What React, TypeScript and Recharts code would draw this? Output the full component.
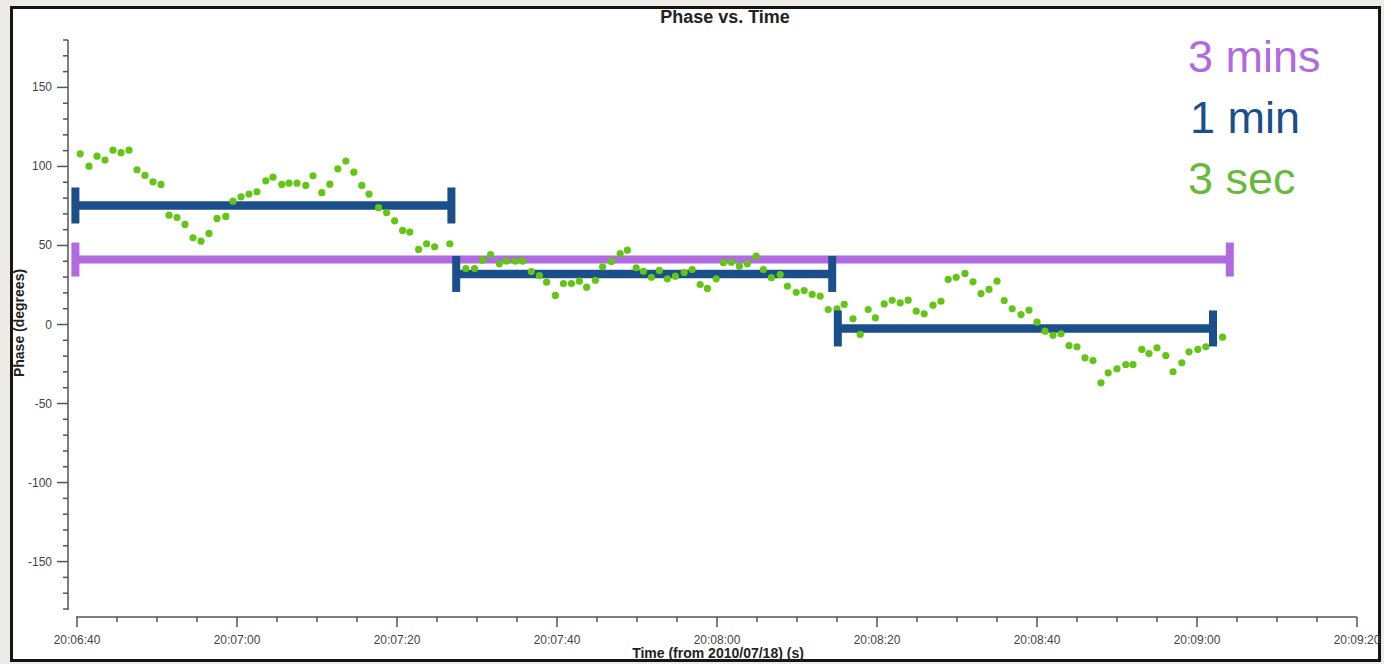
import { ComposedChart, Scatter, Line, XAxis, YAxis } from 'recharts';

// seconds after 20:06:40 (2010/07/18)
const TIME_S = [
  0.4, 1.5, 2.5, 3.5, 4.5, 5.5, 6.5, 7.5, 8.5, 9.5,
  10.5, 11.5, 12.5, 13.5, 14.5, 15.5, 16.5, 17.5, 18.6, 19.5,
  20.5, 21.5, 22.5, 23.6, 24.5, 25.6, 26.5, 27.5, 28.6, 29.5,
  30.6, 31.6, 32.6, 33.6, 34.6, 35.6, 36.5, 37.7, 38.7, 39.7,
  40.7, 41.6, 42.7, 43.7, 44.7, 46.6, 48.6, 49.7, 50.7, 51.7,
  52.8, 53.7, 54.8, 55.7, 56.8, 57.8, 58.7, 59.8, 60.8, 61.8,
  62.8, 63.7, 64.8, 65.7, 66.8, 67.9, 68.8, 69.9, 70.8, 71.8,
  72.8, 73.8, 74.8, 75.9, 76.9, 77.9, 78.8, 79.9, 80.8, 81.8,
  82.8, 83.8, 84.9, 85.8, 86.8, 87.9, 88.8, 89.9, 90.9, 91.9,
  92.9, 93.9, 95.0, 95.9, 97.0, 97.9, 98.9, 99.8, 100.9, 101.9,
  102.9, 103.9, 104.9, 105.9, 107.0, 108.0, 108.9, 109.9, 111.0, 112.0,
  113.0, 114.0, 115.0, 115.9, 116.9, 118.0, 119.0, 120.0, 121.0, 122.0,
  123.0, 124.0, 125.0, 126.0, 127.0, 128.0, 128.9, 130.0, 131.1, 132.0,
  133.1, 134.0, 135.0, 136.1, 137.0, 138.1, 139.0, 140.1, 141.1, 142.1,
  143.2,
];

const PHASE_DEG = [
  108.0, 100.2, 106.5, 104.0, 110.3, 108.7, 110.3, 97.9, 94.3, 90.3,
  88.6, 69.2, 67.7, 63.3, 54.9, 52.7, 57.6, 67.1, 68.4, 78.0,
  80.8, 82.5, 84.0, 90.9, 93.2, 88.6, 89.4, 89.4, 88.0, 94.1,
  83.4, 88.8, 98.5, 103.4, 96.4, 88.0, 82.5, 73.9, 70.7, 65.6,
  59.5, 58.5, 47.5, 51.1, 49.2, 51.1, 35.4, 35.4, 40.7, 44.3,
  38.4, 40.1, 40.1, 40.1, 33.5, 31.0, 26.8, 18.4, 25.9, 25.9,
  27.4, 23.6, 28.0, 36.5, 39.9, 44.9, 47.0, 35.9, 33.7, 29.9,
  34.2, 28.9, 30.6, 32.9, 34.8, 25.3, 22.8, 28.9, 39.1, 39.4,
  36.9, 38.4, 43.2, 34.8, 29.6, 31.6, 24.2, 20.4, 21.5, 19.0,
  17.9, 9.5, 9.9, 12.7, 3.6, -6.3, 9.5, 4.2, 13.0, 15.3,
  13.7, 15.4, 8.4, 6.8, 12.2, 14.7, 28.5, 29.9, 32.3, 27.0,
  19.6, 22.2, 27.4, 15.2, 9.9, 6.3, 9.1, 1.5, -4.2, -6.8,
  -5.9, -13.3, -14.1, -21.1, -22.8, -36.9, -30.6, -28.0, -25.3, -25.3,
  -15.8, -18.4, -14.7, -19.6, -29.9, -24.2, -17.3, -15.8, -14.1, -11.4,
  -8.0,
];

// 1 minute averages
const MIN1_START = [-0.2, 47.4, 95.1];
const MIN1_END = [46.8, 94.4, 142.0];
const MIN1_MEAN = [75.3, 32.0, -2.5];

// 3 minute average
const MIN3_START = [-0.2];
const MIN3_END = [144.1];
const MIN3_MEAN = [41.1];

const X_MAJOR = [0, 20, 40, 60, 80, 100, 120, 140, 160];
const X_LABELS = ['20:06:40', '20:07:00', '20:07:20', '20:07:40', '20:08:00', '20:08:20', '20:08:40', '20:09:00', '20:09:20'];
const Y_MAJOR = [-150, -100, -50, 0, 50, 100, 150];
const Y_LABELS = ['-150', '-100', '-50', '0', '50', '100', '150'];

const LEGEND_TEXT = ['3 mins', '1 min', '3 sec'];

const PURPLE = '#b26ae0';
const BLUE = '#1b4f8a';
const GREEN = '#63c615';
const AXIS = '#555';
const FONT = '"Liberation Sans", Arial, sans-serif';

const xMinor: number[] = [];
for (let t = 0; t <= 160; t += 5) xMinor.push(t);
const yMinor: number[] = [];
for (let v = -180; v <= 180; v += 10) yMinor.push(v);

const points = TIME_S.map((t, i) => ({ t, v: PHASE_DEG[i] }));
const min1Bars = MIN1_START.map((s, i) => [
  { t: s, v: MIN1_MEAN[i] },
  { t: MIN1_END[i], v: MIN1_MEAN[i] },
]);
const min3Bar = [
  { t: MIN3_START[0], v: MIN3_MEAN[0] },
  { t: MIN3_END[0], v: MIN3_MEAN[0] },
];

const XTick = (props: any) => {
  const { x, y, payload } = props;
  const i = X_MAJOR.indexOf(payload.value);
  return (
    <g>
      <line x1={x} x2={x} y1={y} y2={y + (i >= 0 ? 10 : 5)} stroke={AXIS} strokeWidth={1.5} />
      {i >= 0 && (
        <text x={x} y={y + 27} textAnchor="middle" fontSize={12} fill="#444" fontFamily={FONT}>
          {X_LABELS[i]}
        </text>
      )}
    </g>
  );
};

const YTick = (props: any) => {
  const { x, y, payload } = props;
  const i = Y_MAJOR.indexOf(payload.value);
  return (
    <g>
      <line x1={x - (i >= 0 ? 11 : 5)} x2={x} y1={y} y2={y} stroke={AXIS} strokeWidth={1.5} />
      {i >= 0 && (
        <text x={x - 16} y={y + 4} textAnchor="end" fontSize={12} fill="#444" fontFamily={FONT}>
          {Y_LABELS[i]}
        </text>
      )}
    </g>
  );
};

const capDot = (color: string, h: number) => (props: any) => (
  <rect key={props.index} x={props.cx - 4} y={props.cy - h / 2} width={8} height={h} fill={color} />
);

const greenDot = (props: any) => <circle cx={props.cx} cy={props.cy} r={3.6} fill={GREEN} />;

export default function App() {
  return (
    <div style={{ position: 'absolute', left: 0, top: 0, width: 1384, height: 664, background: '#eeebe6', overflow: 'hidden' }}>
      <div
        style={{
          position: 'absolute', left: 10, top: 6, width: 1371, height: 656,
          boxSizing: 'border-box', border: '3px solid #151515', background: '#fff',
        }}
      />
      <div style={{ position: 'absolute', left: 0, top: 0 }}>
        <ComposedChart width={1384} height={664} margin={{ top: 40, right: 27, bottom: 0, left: 0 }}>
          <XAxis
            type="number"
            dataKey="t"
            domain={[-1.125, 160]}
            allowDataOverflow
            ticks={xMinor}
            interval={0}
            height={47}
            tickSize={0}
            tickMargin={0}
            tick={<XTick />}
            axisLine={{ stroke: AXIS, strokeWidth: 1.5, strokeDasharray: '0 8 2000' }}
          />
          <YAxis
            type="number"
            dataKey="v"
            domain={[-180, 180]}
            allowDataOverflow
            ticks={yMinor}
            interval={0}
            width={68}
            padding={{ top: 0, bottom: 8 }}
            tickSize={0}
            tickMargin={0}
            tick={<YTick />}
            axisLine={{ stroke: AXIS, strokeWidth: 1.5, strokeDasharray: '570 100' }}
          />
          <Scatter data={points} dataKey="v" shape={greenDot} isAnimationActive={false} />
          <Line
            data={min3Bar}
            dataKey="v"
            stroke={PURPLE}
            strokeWidth={8}
            dot={capDot(PURPLE, 34)}
            activeDot={false}
            isAnimationActive={false}
          />
          {min1Bars.map((bar, i) => (
            <Line
              key={i}
              data={bar}
              dataKey="v"
              stroke={BLUE}
              strokeWidth={8.5}
              dot={capDot(BLUE, 36)}
              activeDot={false}
              isAnimationActive={false}
            />
          ))}
        </ComposedChart>
      </div>
      <svg width={1384} height={664} style={{ position: 'absolute', left: 0, top: 0, pointerEvents: 'none' }}>
        <text x={725} y={23} textAnchor="middle" fontSize={18} fontWeight="bold" fill="#222" fontFamily={FONT}>
          Phase vs. Time
        </text>
        <text x={718} y={658} textAnchor="middle" fontSize={14} fontWeight="bold" fill="#222" fontFamily={FONT}>
          Time (from 2010/07/18) (s)
        </text>
        <text
          x={0}
          y={0}
          transform="translate(24 323) rotate(-90)"
          textAnchor="middle"
          fontSize={14}
          fontWeight="bold"
          fill="#222"
          fontFamily={FONT}
        >
          Phase (degrees)
        </text>
        <text x={1188} y={72} fontSize={45} fill={PURPLE} fontFamily={FONT}>{LEGEND_TEXT[0]}</text>
        <text x={1190} y={133} fontSize={45} fill={BLUE} fontFamily={FONT}>{LEGEND_TEXT[1]}</text>
        <text x={1188} y={194} fontSize={45} fill="#6ab83c" fontFamily={FONT}>{LEGEND_TEXT[2]}</text>
      </svg>
    </div>
  );
}
